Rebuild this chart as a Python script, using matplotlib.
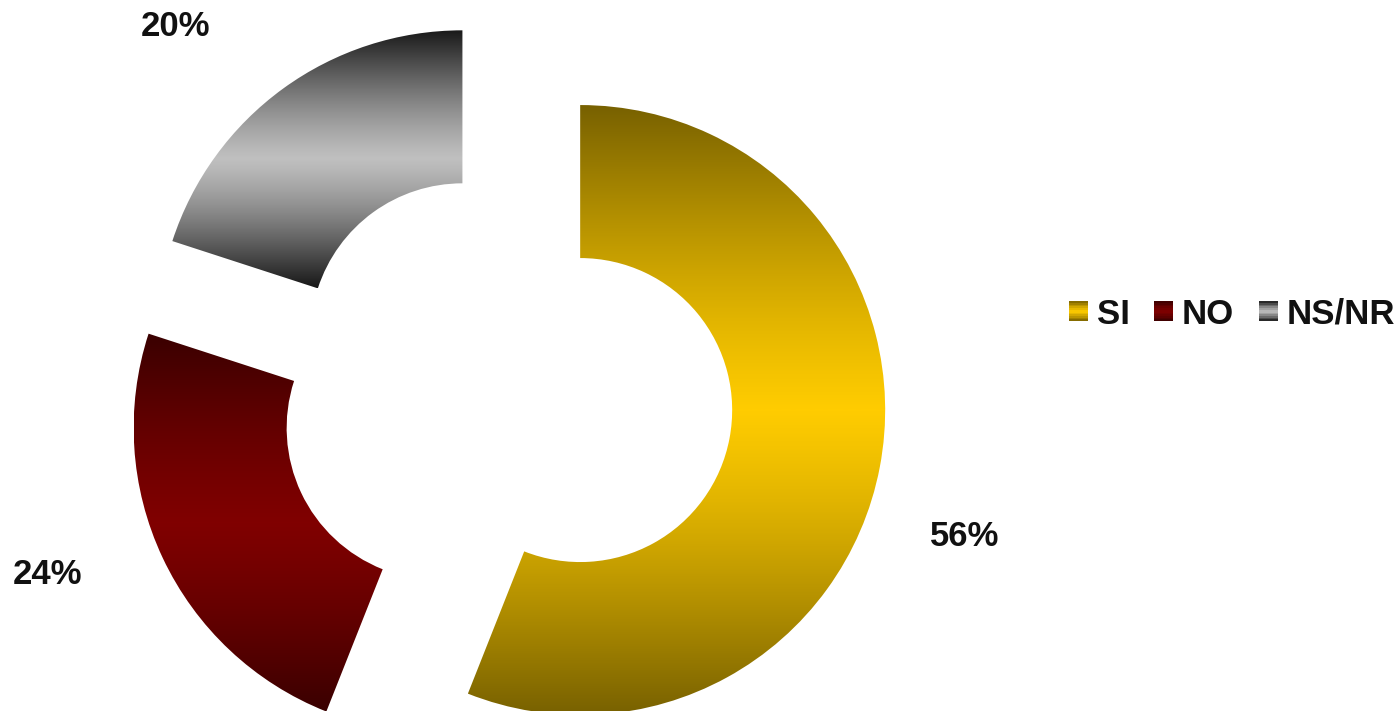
import numpy as np
import matplotlib
matplotlib.use("Agg")
import matplotlib.pyplot as plt
from matplotlib.colors import LinearSegmentedColormap
from matplotlib.legend_handler import HandlerBase
from matplotlib.patches import Rectangle, Patch

plt.rcParams['font.family'] = ['Liberation Sans', 'DejaVu Sans']

# ---- data ----
categories = ['SI', 'NO', 'NS/NR']
values = [56, 24, 20]
pct_labels = ['56%', '24%', '20%']

# ---- styles ----
dark_colors = ['#786100', '#3a0000', '#181818']
mid_colors = ['#ffcc00', '#800000', '#c0c0c0']
label_pos = [(965, 711 - 537), (47, 711 - 575), (175, 711 - 27)]

W, H = 1394, 711
fig = plt.figure(figsize=(W / 100, H / 100), dpi=100)
ax = fig.add_axes([0, 0, 1, 1])

R = 305
wedges, _ = ax.pie(values, radius=R, center=(506.5, H - 396), startangle=90,
                   counterclock=False, explode=[75] * len(values),
                   wedgeprops=dict(width=153, linewidth=0), frame=True)
ax.set_xlim(0, W)
ax.set_ylim(0, H)
ax.set_aspect('equal')
ax.axis('off')


def prof(s):
    tri = 1 - np.abs(2 * s - 1)
    return 0.6 * tri + 0.4 * np.sin(np.pi * s)


s = np.linspace(0, 1, 400)
profile = prof(s)

cmaps = []
for w, dc, mc in zip(wedges, dark_colors, mid_colors):
    cmap = LinearSegmentedColormap.from_list('g', [dc, mc])
    cmaps.append(cmap)
    ext = w.get_path().get_extents()
    grad = profile.reshape(-1, 1)
    im = ax.imshow(grad, cmap=cmap, vmin=0, vmax=1, aspect='auto',
                   origin='upper', extent=[ext.x0, ext.x1, ext.y0, ext.y1],
                   interpolation='bilinear', zorder=2)
    im.set_clip_path(w)
    w.set_facecolor('none')

ax.set_xlim(0, W)
ax.set_ylim(0, H)

for txt, (x, y) in zip(pct_labels, label_pos):
    ax.text(x, y, txt, ha='center', va='center', fontsize=25,
            fontweight='bold', color='#111111')


class GradHandler(HandlerBase):
    def __init__(self, cmap):
        super().__init__()
        self.cmap = cmap

    def create_artists(self, legend, orig_handle, xdescent, ydescent,
                       width, height, fontsize, trans):
        n = 12
        arts = []
        side = min(width, height)
        x0 = -xdescent + (width - side) / 2
        y0 = -ydescent + (height - side) / 2
        for i in range(n):
            v = prof((i + 0.5) / n)
            r = Rectangle((x0, y0 + side * i / n), side, side / n + 0.3,
                          facecolor=self.cmap(v), edgecolor='none',
                          transform=trans)
            arts.append(r)
        return arts


handles = [Patch(label=c) for c in categories]
hmap = {h: GradHandler(cm) for h, cm in zip(handles, cmaps)}
leg = fig.legend(handles=handles, labels=categories, handler_map=hmap,
                 loc='center', bbox_to_anchor=(1232 / W, 1 - 314 / H),
                 ncol=3, frameon=False, prop=dict(size=25, weight='bold'),
                 handlelength=0.55, handleheight=0.55, handletextpad=0.25,
                 columnspacing=0.7, borderpad=0, borderaxespad=0)
for t in leg.get_texts():
    t.set_color('#111111')

fig.savefig('out.png', dpi=100)
